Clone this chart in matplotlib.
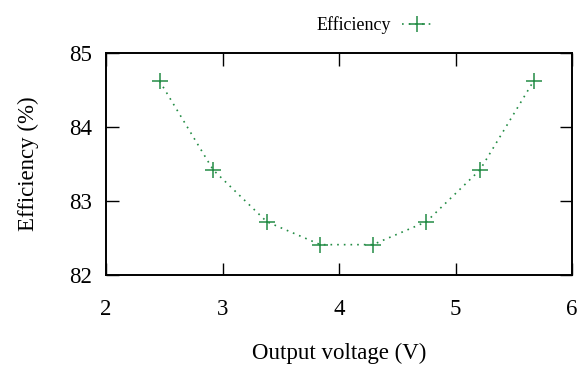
import matplotlib
matplotlib.use('Agg')
from matplotlib import pyplot as plt

# 输出电压与效率
voltage = [2.46, 2.92, 3.38, 3.84, 4.29, 4.75, 5.21, 5.67]
efficiency = [84.62, 83.42, 82.72, 82.41, 82.41, 82.72, 83.42, 84.62]
xticks = [2, 3, 4, 5, 6]
yticks = [82, 83, 84, 85]

green = '#238c45'
fontsize = 16.5

plt.rcParams['font.family'] = ['Liberation Serif', 'DejaVu Serif']
plt.rcParams['mathtext.fontset'] = 'stix'

fig = plt.figure(figsize=(5.81, 3.69), dpi=100)
ax = fig.add_axes([106 / 581, 1 - 275 / 369, (572 - 106) / 581, (275 - 53) / 369])

ax.plot(voltage, efficiency, linestyle=(0, (1, 3)), linewidth=1.2, color=green,
        marker='+', markersize=11, markeredgewidth=1.1, label='Efficiency')

ax.set_xlim(2, 6)
ax.set_ylim(82, 85)
ax.set_xticks(xticks)
ax.set_yticks(yticks)
ax.tick_params(direction='in', length=9, width=1, labelsize=fontsize,
               top=True, right=True)
ax.tick_params(axis='x', pad=17)
ax.tick_params(axis='y', pad=10)
for s in ax.spines.values():
    s.set_linewidth(1.4)

ax.set_xlabel('Output voltage (V)', fontsize=fontsize, labelpad=17)
ax.set_ylabel('Efficiency (%)', fontsize=fontsize, labelpad=22)

ax.legend(loc='lower center', bbox_to_anchor=(0.575, 1.02), frameon=False,
          markerfirst=False, fontsize=13, handlelength=1.6, handletextpad=0.6,
          borderaxespad=0.4)

plt.savefig('out.png', dpi=100)
